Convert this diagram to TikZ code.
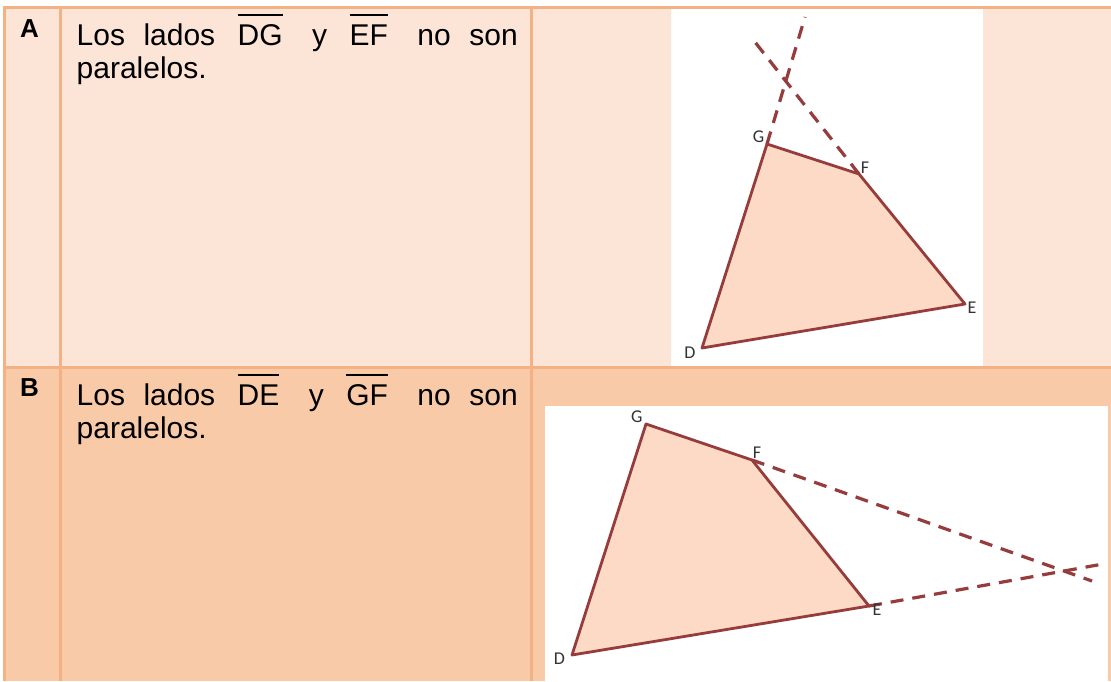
\documentclass[tikz,border=0pt]{standalone}
\usepackage{fontspec}
\setmainfont{Liberation Sans}
\newfontfamily\geofont{Carlito}
\usepackage{tikz}
\usetikzlibrary{positioning,calc}
\usepackage{xcolor}
\definecolor{filaA}{HTML}{FCE4D6}
\definecolor{filaB}{HTML}{F8CAA8}
\definecolor{borde}{HTML}{F4B183}
\definecolor{ladocol}{RGB}{150,60,60}
\definecolor{relleno}{RGB}{252,218,198}
\tolerance=10000
\hyphenpenalty=10000
\newcommand{\lado}[1]{\kern4pt\setbox0\hbox{#1}\rlap{\rule[29pt]{\wd0}{1.8pt}}\box0\kern11pt\relax}

\begin{document}
\begin{tikzpicture}[x=1pt,y=-1pt,
  linea/.style={draw=borde,line width=3pt},
  poli/.style={draw=ladocol,line width=2.8pt,line join=round,fill=relleno},
  prolong/.style={draw=ladocol,line width=3.2pt,dash pattern=on 13pt off 9pt},
  lbl/.style={font=\geofont\fontsize{18}{18}\selectfont,text=black!80,inner sep=0pt},
  letra/.style={font=\bfseries\fontsize{26}{26}\selectfont,inner sep=0pt,anchor=base west},
  texto/.style={font=\fontsize{30}{33.5}\selectfont,inner sep=0pt,anchor=base west,
    text width=441pt,align=justify}]
  \useasboundingbox (0,0) rectangle (1111,681);

  % fondo de la tabla
  \fill[white] (0,0) rectangle (1111,681);
  \fill[filaA] (6,9) rectangle (1111,366);
  \fill[filaB] (6,369) rectangle (1111,681);

  % bordes
  \draw[linea] (3,7.5) -- (1111,7.5);
  \draw[linea] (3,367.5) -- (1111,367.5);
  \draw[linea] (4.5,6) -- (4.5,681);
  \draw[linea] (60.5,9) -- (60.5,681);
  \draw[linea] (531.5,9) -- (531.5,681);

  % textos
  \node[letra] (letA) at (20,37.3) {A};
  \node[texto] (txtA) at (76.5,45)
    {Los lados \lado{DG} y \lado{EF} no son paralelos.};
  \node[letra] (letB) at (20,396.5) {B};
  \node[texto] (txtB) at (76.5,405)
    {Los lados \lado{DE} y \lado{GF} no son paralelos.};

  % figura A
  \fill[white] (671,9) rectangle (983,366);
  \coordinate (aD) at (702,348);
  \coordinate (aE) at (965,304);
  \coordinate (aF) at (859,174);
  \coordinate (aG) at (767,144);
  \coordinate (aGx) at (805,17);
  \coordinate (aFx) at (751,37);
  \fill[relleno] (aD) -- (aE) -- (aF) -- (aG) -- cycle;
  \draw[prolong] (aG) -- (aGx);
  \draw[prolong] (aF) -- (aFx);
  \draw[poli] (aD) -- (aE) -- (aF) -- (aG) -- cycle;
  \node[lbl] (labDa) at ($(aD)+(-12,4.5)$) {D};
  \node[lbl] (labEa) at ($(aE)+(7,3.5)$) {E};
  \node[lbl] (labFa) at ($(aF)+(6,-6.5)$) {F};
  \node[lbl] (labGa) at ($(aG)+(-8.5,-7)$) {G};

  % figura B
  \fill[white] (545,406) rectangle (1108,681);
  \coordinate (bD) at (572,655);
  \coordinate (bE) at (869,606);
  \coordinate (bF) at (752,460);
  \coordinate (bG) at (646,424);
  \coordinate (bFx) at (1092,581);
  \coordinate (bEx) at (1103,564);
  \fill[relleno] (bD) -- (bE) -- (bF) -- (bG) -- cycle;
  \draw[prolong] (bF) -- (bFx);
  \draw[prolong] (bE) -- (bEx);
  \draw[poli] (bD) -- (bE) -- (bF) -- (bG) -- cycle;
  \node[lbl] (labDb) at ($(bD)+(-12.5,3.3)$) {D};
  \node[lbl] (labEb) at ($(bE)+(8,3.5)$) {E};
  \node[lbl] (labFb) at ($(bF)+(5,-7.5)$) {F};
  \node[lbl] (labGb) at ($(bG)+(-9.3,-7.7)$) {G};
\end{tikzpicture}
\end{document}
